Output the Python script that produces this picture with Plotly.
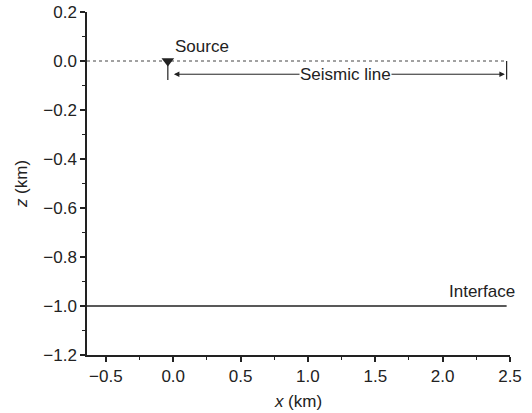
import plotly.graph_objects as go

# ---- data (km) ----
x_range = [-0.64, 2.5]
z_range = [-1.2, 0.2]
x_ticks = [-0.5, 0.0, 0.5, 1.0, 1.5, 2.0, 2.5]
z_ticks = [0.2, 0.0, -0.2, -0.4, -0.6, -0.8, -1.0, -1.2]

surface_x = [-0.64, 2.475]
surface_z = [0.0, 0.0]

interface_x = [-0.64, 2.475]
interface_z = [-1.0, -1.0]

source_x = [-0.04]
source_z = [0.0]
source_stem_z = [0.0, -0.078]

line_end_x = 2.475
line_end_stem_z = [0.0, -0.075]

seismic_line_start = 0.005
seismic_line_end = 2.462
seismic_line_z = -0.054
seismic_label_x = 1.28

INK = "#222222"
FONT = "Liberation Sans, Arial, Helvetica, sans-serif"

fig = go.Figure()

fig.add_trace(go.Scatter(x=surface_x, y=surface_z, mode="lines",
                         line=dict(color="#444444", width=1, dash="dot"),
                         hoverinfo="skip", showlegend=False))
fig.add_trace(go.Scatter(x=interface_x, y=interface_z, mode="lines",
                         line=dict(color=INK, width=1.6),
                         hoverinfo="skip", showlegend=False))
fig.add_trace(go.Scatter(x=[source_x[0], source_x[0]], y=source_stem_z, mode="lines",
                         line=dict(color=INK, width=1.2),
                         hoverinfo="skip", showlegend=False))
fig.add_trace(go.Scatter(x=[line_end_x, line_end_x], y=line_end_stem_z, mode="lines",
                         line=dict(color=INK, width=1.2),
                         hoverinfo="skip", showlegend=False))
fig.add_trace(go.Scatter(x=source_x, y=source_z, mode="markers",
                         marker=dict(symbol="triangle-down", size=11, color=INK,
                                     line=dict(width=0)),
                         hoverinfo="skip", showlegend=False))

# arrows of the seismic line
for tip in (seismic_line_start, seismic_line_end):
    fig.add_annotation(x=tip, y=seismic_line_z, ax=seismic_label_x, ay=seismic_line_z,
                       xref="x", yref="y", axref="x", ayref="y",
                       text="", showarrow=True, arrowhead=2, arrowsize=1.1,
                       arrowwidth=1, arrowcolor=INK, standoff=0, startstandoff=0)

fig.add_annotation(x=seismic_label_x, y=seismic_line_z, xref="x", yref="y",
                   text="Seismic line", showarrow=False, bgcolor="white",
                   font=dict(family=FONT, size=17, color=INK), borderpad=0)
fig.add_annotation(x=source_x[0], y=0.061, xref="x", yref="y",
                   text="Source", showarrow=False, xanchor="left", xshift=5,
                   font=dict(family=FONT, size=17, color=INK))
fig.add_annotation(x=interface_x[1], y=-0.942, xref="x", yref="y",
                   text="Interface", showarrow=False, xanchor="right", xshift=10,
                   font=dict(family=FONT, size=17, color=INK))

axis_common = dict(showgrid=False, zeroline=False, showline=True, linecolor=INK,
                   linewidth=1.5, ticks="outside", ticklen=5, tickwidth=1.5,
                   tickcolor=INK, tickfont=dict(family=FONT, size=17, color=INK),
                   tickformat=".1f", mirror=False, automargin=False)

fig.update_xaxes(range=x_range, tickvals=x_ticks,
                 minor=dict(dtick=0.25, ticklen=3, tickwidth=1.2, tickcolor=INK, ticks="outside"),
                 title=dict(text="<i>x</i> (km)", font=dict(family=FONT, size=17, color=INK),
                            standoff=10),
                 **axis_common)
fig.update_yaxes(range=z_range, tickvals=z_ticks,
                 minor=dict(dtick=0.1, ticklen=3, tickwidth=1.2, tickcolor=INK, ticks="outside"),
                 title=dict(text="<i>z</i> (km)", font=dict(family=FONT, size=17, color=INK),
                            standoff=11),
                 **axis_common)

fig.update_layout(width=532, height=413, margin=dict(l=87, r=22, t=12, b=58),
                  plot_bgcolor="white", paper_bgcolor="white",
                  font=dict(family=FONT, size=17, color=INK))

fig.write_html("out.html")
